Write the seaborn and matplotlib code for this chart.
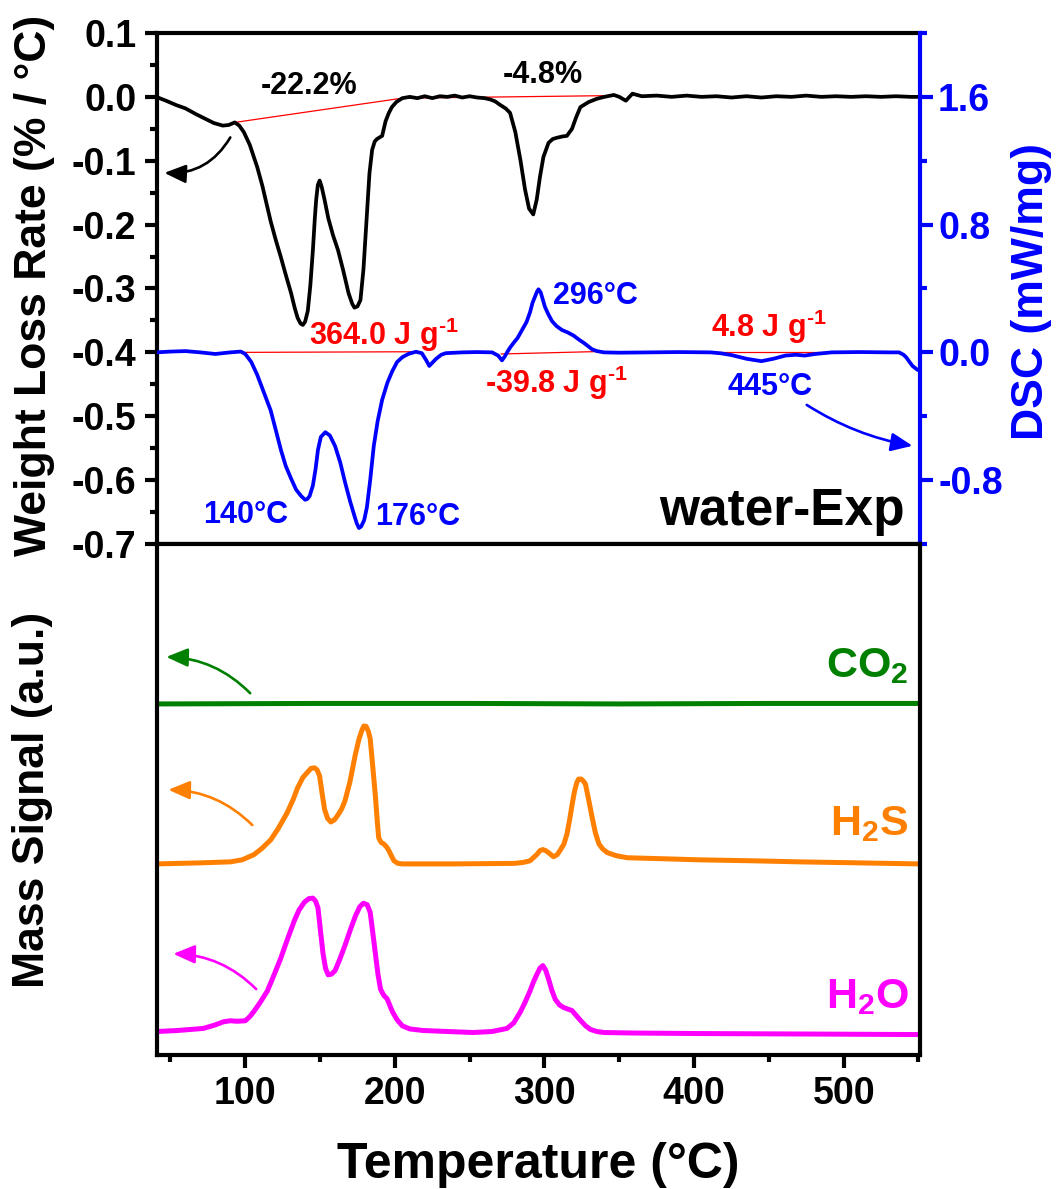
import matplotlib
matplotlib.use("Agg")
import matplotlib.pyplot as plt
from matplotlib.ticker import MultipleLocator, FormatStrFormatter
import seaborn as sns

# ---------------- data ----------------
# DTG (weight loss rate, % / °C)
dtg_T = [40.5, 47, 54, 60, 67, 73, 79, 85, 89, 93, 96, 99, 103, 108, 111.4, 114, 117,
         120.5, 123.8, 127, 130.6, 133, 135, 137, 138.5, 140, 141.8, 143.5, 145.2, 146.5,
         147.4, 148.5, 149.7, 151, 153, 155.5, 158.7, 162, 165.5, 169, 171.5, 173, 175,
         177, 179, 181.3, 183, 184.8, 186.5, 188, 191.5, 193.8, 196, 198, 201, 205, 210,
         215, 220, 225, 230, 235, 240, 245, 250, 255, 260, 263.7, 267, 270, 274, 277,
         280.5, 284, 287, 289.7, 292.5, 294.8, 297, 299.3, 302.7, 305.5, 308.3, 312, 315,
         318.4, 321, 324, 329.6, 335, 340, 346.4, 350, 354.4, 358.8, 365, 375, 385, 395,
         405, 415, 425, 435, 445, 455, 465, 475, 485, 495, 505, 515, 525, 535, 545, 550]
dtg_v = [0.000, -0.006, -0.013, -0.018, -0.027, -0.034, -0.041, -0.045, -0.044, -0.040,
         -0.045, -0.055, -0.075, -0.110, -0.139, -0.165, -0.195, -0.225, -0.251, -0.278,
         -0.307, -0.330, -0.346, -0.355, -0.357, -0.352, -0.335, -0.295, -0.240, -0.190,
         -0.161, -0.138, -0.131, -0.140, -0.161, -0.190, -0.217, -0.240, -0.272, -0.307,
         -0.324, -0.330, -0.328, -0.318, -0.270, -0.184, -0.120, -0.083, -0.070, -0.066,
         -0.061, -0.038, -0.025, -0.016, -0.008, -0.002, 0.000, -0.002, 0.001, -0.002,
         0.001, 0.000, 0.002, -0.001, 0.001, -0.001, -0.002, -0.004, -0.007, -0.012,
         -0.018, -0.025, -0.055, -0.100, -0.145, -0.175, -0.184, -0.161, -0.125, -0.094,
         -0.072, -0.066, -0.064, -0.062, -0.061, -0.050, -0.033, -0.016, -0.008, -0.003,
         0.000, 0.003, 0.000, -0.006, 0.005, 0.001, 0.002, 0.000, 0.002, 0.000, 0.001,
         -0.001, 0.001, -0.001, 0.001, 0.000, 0.002, 0.000, 0.001, 0.000, 0.001, 0.000,
         0.001, 0.000, 0.000]

# DSC (mW/mg)
dsc_T = [40.5, 50, 60, 70, 80, 90, 97, 100, 104, 108, 112, 117, 120.5, 123.8, 127, 130.6,
         134, 137.4, 140, 141.5, 143, 145.2, 147, 148.6, 150.5, 153.5, 156.5, 160, 163.5,
         166.6, 170, 173, 174.5, 176, 177.5, 179.5, 181.3, 183.5, 185.9, 188.5, 191.5, 195,
         198.3, 201.5, 205, 209, 214, 218, 221, 223, 225, 227.6, 231, 234, 245, 255, 265,
         269, 271.6, 273.5, 275, 277, 279.4, 282, 285, 288, 290.3, 292, 293.7, 295, 296,
         297.5, 300.3, 302.5, 305, 308, 311.7, 315.5, 319.5, 323, 326.2, 329, 331.7, 335,
         339.7, 350, 370, 390, 411, 418, 425, 435, 445, 453, 461, 468, 474, 481, 492, 510,
         530, 537, 540, 541.7, 544, 546, 549.4]
dsc_v = [0.000, 0.005, 0.008, 0.000, -0.010, 0.000, 0.005, -0.010, -0.060, -0.141, -0.240,
         -0.364, -0.490, -0.610, -0.710, -0.790, -0.860, -0.900, -0.923, -0.918, -0.900,
         -0.834, -0.730, -0.610, -0.530, -0.500, -0.520, -0.586, -0.690, -0.810, -0.930,
         -1.025, -1.070, -1.100, -1.090, -1.050, -0.970, -0.800, -0.586, -0.430, -0.297,
         -0.190, -0.117, -0.060, -0.030, -0.010, 0.004, -0.005, -0.050, -0.085, -0.065,
         -0.040, -0.015, -0.005, 0.000, 0.002, 0.000, -0.020, -0.050, -0.025, 0.000, 0.030,
         0.060, 0.090, 0.140, 0.190, 0.250, 0.310, 0.350, 0.380, 0.395, 0.375, 0.285, 0.240,
         0.196, 0.165, 0.140, 0.125, 0.105, 0.080, 0.060, 0.040, 0.020, 0.008, 0.000,
         -0.002, 0.000, 0.002, 0.000, -0.006, -0.017, -0.040, -0.055, -0.040, -0.020,
         -0.015, -0.020, -0.010, 0.000, 0.002, 0.000, 0.000, -0.015, -0.030, -0.060,
         -0.085, -0.110]

# integration baselines
dtg_base = [([93, 205], [-0.040, -0.002]), ([205, 345], [-0.002, 0.002])]
dsc_base = [([99, 214], [0.000, 0.004]), ([271, 335], [-0.010, 0.005]),
            ([411, 488], [0.000, 0.000])]

# Mass spectrometry signals (a.u., stacked)
co2_T = [41, 150, 250, 350, 450, 550]
co2_v = [68.7, 68.8, 68.8, 68.7, 68.8, 68.8]

h2s_T = [41.4, 70, 90, 98, 105.7, 111, 117, 122, 128, 132, 135, 138.5, 141.8, 144, 146.3,
         148, 149.7, 151.2, 153, 155, 157.2, 159.5, 162, 164.5, 166.6, 170, 173.5, 176,
         178, 179.3, 180.8, 182.3, 183.5, 185.2, 187, 188.3, 189.2, 190.8, 192.6, 194.5,
         196, 197.8, 199.4, 202, 205, 240, 280, 286, 290.3, 294.8, 297, 298.9, 300.8,
         302.7, 306, 308.5, 310.6, 313, 315, 316.8, 318.4, 320, 321.7, 322.8, 324.5, 326,
         327.4, 329.5, 331.8, 334, 336.4, 339, 342, 348, 355.4, 380, 402.5, 440, 470, 510,
         549.4]
h2s_v = [37.4, 37.6, 37.8, 38.2, 39.2, 40.4, 42.1, 44.3, 47.4, 50.0, 52.3, 54.3, 55.4,
         56.1, 56.2, 55.8, 54.6, 51.5, 48.1, 46.3, 45.6, 46.0, 47.0, 48.2, 49.7, 53.5,
         58.7, 61.8, 63.6, 64.4, 64.3, 63.3, 61.9, 56.5, 50.6, 45.5, 42.5, 41.6, 41.3,
         40.7, 40.0, 38.9, 38.0, 37.5, 37.4, 37.4, 37.5, 37.7, 38.0, 39.2, 40.0, 40.2,
         40.0, 39.6, 38.8, 39.2, 40.1, 41.3, 43.2, 46.0, 48.9, 51.5, 53.4, 54.0, 54.0,
         53.6, 53.0, 50.0, 46.6, 43.5, 41.3, 40.3, 39.6, 39.0, 38.6, 38.4, 38.2, 38.0,
         37.8, 37.6, 37.4]

h2o_T = [41.4, 55, 72, 80, 85.4, 90, 94.4, 100, 103, 105.7, 110, 114.7, 119, 123.8, 128,
         132.8, 136, 139.5, 142.5, 145.2, 147, 148.6, 150.2, 152, 153.7, 155.4, 157.5, 160,
         163, 166.6, 170, 173.5, 176.5, 179, 181.5, 183.5, 185.3, 187, 188.7, 190.4, 192.5,
         194.8, 196.5, 198.3, 201.5, 205, 210, 218.6, 235, 252.5, 265, 275, 279.5, 284,
         287, 290.3, 292.5, 294.8, 297, 298.9, 300.8, 302.7, 305, 307.2, 310, 312.8, 315.5,
         318.4, 321, 324, 327.5, 330.7, 335, 339.7, 360, 402.5, 480, 549.4]
h2o_v = [4.6, 4.8, 5.2, 5.9, 6.5, 6.7, 6.6, 6.7, 7.5, 8.5, 10.3, 12.5, 15.5, 19.0, 22.5,
         26.3, 28.4, 29.9, 30.6, 30.7, 30.1, 28.8, 24.5, 19.8, 16.9, 15.7, 15.8, 16.5,
         18.6, 21.4, 24.3, 27.1, 29.0, 29.7, 29.4, 27.9, 23.8, 19.8, 15.8, 12.9, 11.7,
         11.0, 9.8, 8.5, 6.9, 5.7, 5.1, 4.8, 4.6, 4.4, 4.6, 5.2, 6.3, 8.5, 10.3, 12.5,
         14.2, 15.7, 17.0, 17.5, 16.6, 14.9, 12.6, 10.9, 9.8, 9.3, 9.0, 8.7, 7.8, 6.8,
         5.7, 5.0, 4.6, 4.4, 4.3, 4.2, 4.1, 4.0]

x_ticks = [100, 200, 300, 400, 500]

# ---------------- style ----------------
sns.set_theme(style="ticks")
plt.rcParams.update({
    "font.family": ["Liberation Sans", "DejaVu Sans"],
    "font.weight": "bold",
    "mathtext.fontset": "custom",
    "mathtext.rm": "Liberation Sans:bold",
    "mathtext.it": "Liberation Sans:bold",
    "mathtext.bf": "Liberation Sans:bold",
    "mathtext.default": "rm",
    "axes.linewidth": 3,
    "axes.unicode_minus": False,
    "text.color": "black",
    "axes.labelcolor": "black",
    "xtick.color": "black",
    "ytick.color": "black",
    "axes.edgecolor": "black",
})

BLUE = "#0000FF"
RED = "#FF0000"
GREEN = "#008000"
ORANGE = "#FF8000"
MAGENTA = "#FF00FF"

line_kw = dict(sort=False, estimator=None, solid_joinstyle="round",
               solid_capstyle="round")

fig = plt.figure(figsize=(10.57, 11.89), dpi=100)
ax = fig.add_axes([0.14853, 0.54247, 0.72185, 0.42978])
ax2 = ax.twinx()
axm = fig.add_axes([0.14853, 0.11270, 0.72185, 0.42977])

XLIM = (41, 551)

# ---- top panel: DTG ----
for bx, by in dtg_base:
    ax.plot(bx, by, color=RED, lw=0.9, zorder=1)
sns.lineplot(x=dtg_T, y=dtg_v, ax=ax, color="black", lw=2.7, zorder=2, **line_kw)
ax.set_xlim(*XLIM)
ax.set_ylim(-0.7, 0.1)
ax.yaxis.set_major_locator(MultipleLocator(0.1))
ax.yaxis.set_minor_locator(MultipleLocator(0.05))
ax.yaxis.set_major_formatter(FormatStrFormatter("%.1f"))
ax.tick_params(axis="y", which="major", direction="out", length=9, width=3,
               labelsize=27, pad=6, colors="black")
ax.tick_params(axis="y", which="minor", direction="out", length=5, width=3,
               colors="black")
ax.tick_params(axis="x", which="both", bottom=False, top=False, labelbottom=False)
ax.spines["right"].set_visible(False)
for s in ("left", "top", "bottom"):
    ax.spines[s].set_color("black")
ax.set_xlabel("")
ax.set_ylabel("")

# ---- top panel: DSC ----
for bx, by in dsc_base:
    ax2.plot(bx, by, color=RED, lw=0.9, zorder=1)
sns.lineplot(x=dsc_T, y=dsc_v, ax=ax2, color=BLUE, lw=2.7, zorder=2, **line_kw)
ax2.set_xlim(*XLIM)
ax2.set_ylim(-1.2, 2.0)
ax2.yaxis.set_major_locator(MultipleLocator(0.8))
ax2.yaxis.set_minor_locator(MultipleLocator(0.4))
ax2.yaxis.set_major_formatter(FormatStrFormatter("%.1f"))
ax2.tick_params(axis="y", which="major", direction="out", length=9, width=3,
                labelsize=27, pad=4, colors=BLUE)
ax2.tick_params(axis="y", which="minor", direction="out", length=5, width=3,
                colors=BLUE)
for s in ("left", "top", "bottom"):
    ax2.spines[s].set_visible(False)
ax2.spines["right"].set_color(BLUE)
ax2.set_xlabel("")
ax2.set_ylabel("")

# annotations (top panel, in DTG coordinates)
sup = r"$^{\text{-}1}$"
ax.text(142.7, 0.017, "-22.2%", fontsize=22, color="black", ha="center", va="center")
ax.text(299, 0.034, "-4.8%", fontsize=22, color="black", ha="center", va="center")
ax.text(142.7, -0.388, "364.0 J g" + sup, fontsize=22, color=RED, ha="left", va="baseline")
ax.text(260.3, -0.463, "-39.8 J g" + sup, fontsize=22, color=RED, ha="left", va="baseline")
ax.text(411.5, -0.3765, "4.8 J g" + sup, fontsize=22, color=RED, ha="left", va="baseline")
ax.text(306, -0.3235, "296°C", fontsize=22, color=BLUE, ha="left", va="baseline")
ax.text(422.5, -0.466, "445°C", fontsize=22, color=BLUE, ha="left", va="baseline")
ax.text(72, -0.667, "140°C", fontsize=22, color=BLUE, ha="left", va="baseline")
ax.text(186.8, -0.670, "176°C", fontsize=22, color=BLUE, ha="left", va="baseline")
ax.text(541, -0.670, "water-Exp", fontsize=37, color="black", ha="right", va="baseline")

arrow_kw = dict(arrowstyle="-|>,head_length=0.65,head_width=0.28", mutation_scale=20,
                lw=1.9, shrinkA=0, shrinkB=0)
ax.annotate("", xy=(45.9, -0.119), xytext=(90, -0.0635),
            arrowprops=dict(color="black", connectionstyle="arc3,rad=-0.3", **arrow_kw))
ax2.annotate("", xy=(546, -0.585), xytext=(475.3, -0.329),
             arrowprops=dict(color=BLUE, connectionstyle="arc3,rad=0.1", **arrow_kw))

# ---- bottom panel: mass spectrometry ----
sns.lineplot(x=co2_T, y=co2_v, ax=axm, color=GREEN, lw=3.6, **line_kw)
sns.lineplot(x=h2s_T, y=h2s_v, ax=axm, color=ORANGE, lw=3.6, **line_kw)
sns.lineplot(x=h2o_T, y=h2o_v, ax=axm, color=MAGENTA, lw=3.6, **line_kw)
axm.set_xlim(*XLIM)
axm.set_ylim(0, 100)
axm.set_yticks([])
axm.set_xticks(x_ticks)
axm.xaxis.set_minor_locator(MultipleLocator(50))
axm.tick_params(axis="x", which="major", direction="out", length=9, width=3,
                labelsize=27, pad=6, colors="black")
axm.tick_params(axis="x", which="minor", direction="out", length=5, width=3,
                colors="black")
for s in axm.spines.values():
    s.set_color("black")
axm.set_xlabel("")
axm.set_ylabel("")

axm.text(543.3, 74.05, "CO$_2$", fontsize=31, color=GREEN, ha="right", va="baseline")
axm.text(543.0, 43.05, "H$_2$S", fontsize=31, color=ORANGE, ha="right", va="baseline")
axm.text(543.3, 9.26, "H$_2$O", fontsize=31, color=MAGENTA, ha="right", va="baseline")

for col, tip, start in ((GREEN, (47.2, 77.9), (103.3, 70.8)),
                        (ORANGE, (48.6, 51.9), (104.7, 45.0)),
                        (MAGENTA, (51.9, 19.8), (107.3, 12.9))):
    axm.annotate("", xy=tip, xytext=start,
                 arrowprops=dict(color=col, connectionstyle="arc3,rad=0.2", **arrow_kw))

# ---- axis titles ----
fig.text(35 / 1057, 1 - 285 / 1189, "Weight Loss Rate (% / °C)", fontsize=32,
         rotation=90, ha="center", va="center", color="black")
fig.text(33 / 1057, 1 - 800 / 1189, "Mass Signal (a.u.)", fontsize=32,
         rotation=90, ha="center", va="center", color="black")
fig.text(1031 / 1057, 1 - 292 / 1189, "DSC (mW/mg)", fontsize=32,
         rotation=90, ha="center", va="center", color=BLUE)
fig.text(538.5 / 1057, 1 - 1178 / 1189, "Temperature (°C)", fontsize=36,
         ha="center", va="baseline", color="black")

fig.savefig("out.png", dpi=100)
